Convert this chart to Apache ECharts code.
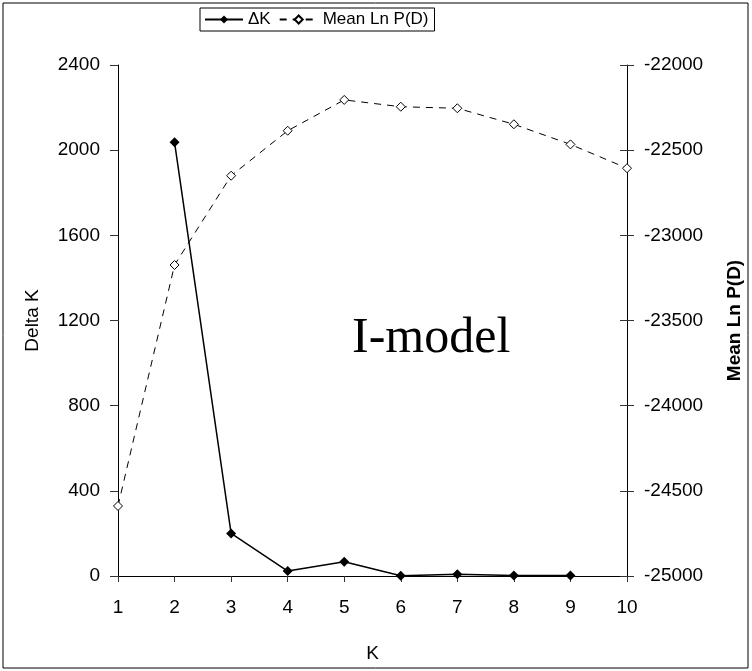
<!DOCTYPE html>
<html>
<head>
<meta charset="utf-8">
<script src="https://cdn.jsdelivr.net/npm/echarts@6/dist/echarts.min.js"></script>
<style>
html, body { margin: 0; padding: 0; background: #fff; }
#chart { width: 752px; height: 671px; }
</style>
</head>
<body>
<div id="chart"></div>
<script>
// K values on the x axis
var kValues = [1, 2, 3, 4, 5, 6, 7, 8, 9, 10];
// delta K (left axis), not defined at K=1 and K=10
var deltaK = [null, 2037, 200, 23, 67, 1, 8, 2, 2, null];
// mean Ln P(D) (right axis)
var meanLnPD = [-24589, -23174, -22650, -22386, -22205, -22245, -22254, -22348, -22466, -22606];

function pairs(vals) {
    var out = [];
    for (var i = 0; i < kValues.length; i++) {
        if (vals[i] !== null) out.push([kValues[i], vals[i]]);
    }
    return out;
}

// plain numbers, no thousands separators
function plain(v) { return String(v); }

var font = 'Liberation Sans, Arial, sans-serif';
var myChart = echarts.init(document.getElementById('chart'));

var option = {
    backgroundColor: '#fff',
    animation: false,
    textStyle: { fontFamily: font },
    graphic: [
        {
            type: 'rect',
            shape: { x: 3, y: 3, width: 745, height: 665 },
            style: { fill: 'none', stroke: '#000', lineWidth: 1 }
        },
        {
            type: 'text',
            left: 352,
            top: 314,
            style: { text: 'I-model', font: '50px "Liberation Serif", "Times New Roman", serif', fill: '#000' }
        }
    ],
    legend: {
        top: 8,
        left: 200,
        data: ['ΔK', 'Mean Ln P(D)'],
        itemWidth: 38,
        itemHeight: 10,
        itemGap: 8,
        padding: [3, 6, 3, 4],
        borderColor: '#000',
        borderWidth: 1,
        backgroundColor: '#fff',
        textStyle: { fontSize: 17, color: '#000', fontFamily: font }
    },
    grid: { left: 118, right: 123, top: 65, bottom: 95 },
    xAxis: {
        type: 'value',
        min: 1,
        max: 10,
        interval: 1,
        name: 'K',
        nameLocation: 'middle',
        nameGap: 68,
        nameTextStyle: { fontSize: 19, color: '#000' },
        axisLine: { lineStyle: { color: '#000', width: 1 } },
        axisTick: { length: 6, lineStyle: { color: '#333' } },
        axisLabel: { fontSize: 19, color: '#000', margin: 22, formatter: plain },
        splitLine: { show: false }
    },
    yAxis: [
        {
            type: 'value',
            min: 0,
            max: 2400,
            interval: 400,
            position: 'left',
            name: 'Delta K',
            nameLocation: 'middle',
            nameGap: 76,
            nameTextStyle: { fontSize: 19, color: '#000' },
            axisLine: { show: true, lineStyle: { color: '#000', width: 1 } },
            axisTick: { show: true, length: 8, lineStyle: { color: '#333' } },
            axisLabel: { fontSize: 19, color: '#000', margin: 18, formatter: plain },
            splitLine: { show: false }
        },
        {
            type: 'value',
            min: -25000,
            max: -22000,
            interval: 500,
            position: 'right',
            name: 'Mean Ln P(D)',
            nameLocation: 'middle',
            nameGap: 98,
            nameRotate: 90,
            nameTextStyle: { fontSize: 19, fontWeight: 'bold', color: '#000' },
            axisLine: { show: true, lineStyle: { color: '#000', width: 1 } },
            axisTick: { show: true, length: 7, lineStyle: { color: '#333' } },
            axisLabel: { fontSize: 19, color: '#000', margin: 17, formatter: plain },
            splitLine: { show: false }
        },
        {
            // inner half of the crossing ticks on the right axis
            type: 'value',
            min: -25000,
            max: -22000,
            interval: 500,
            position: 'right',
            axisLine: { show: false },
            axisTick: { show: true, inside: true, length: 7, lineStyle: { color: '#333' } },
            axisLabel: { show: false },
            splitLine: { show: false }
        }
    ],
    series: [
        {
            name: 'ΔK',
            type: 'line',
            yAxisIndex: 0,
            data: pairs(deltaK),
            symbol: 'diamond',
            symbolSize: 10,
            itemStyle: { color: '#000' },
            lineStyle: { color: '#000', width: 1.5 }
        },
        {
            name: 'Mean Ln P(D)',
            type: 'line',
            yAxisIndex: 1,
            data: pairs(meanLnPD),
            symbol: 'diamond',
            symbolSize: 9,
            itemStyle: { color: '#fff', borderColor: '#000', borderWidth: 1 },
            lineStyle: { color: '#000', width: 1, type: [7, 6] }
        }
    ]
};

myChart.setOption(option);
</script>
</body>
</html>
